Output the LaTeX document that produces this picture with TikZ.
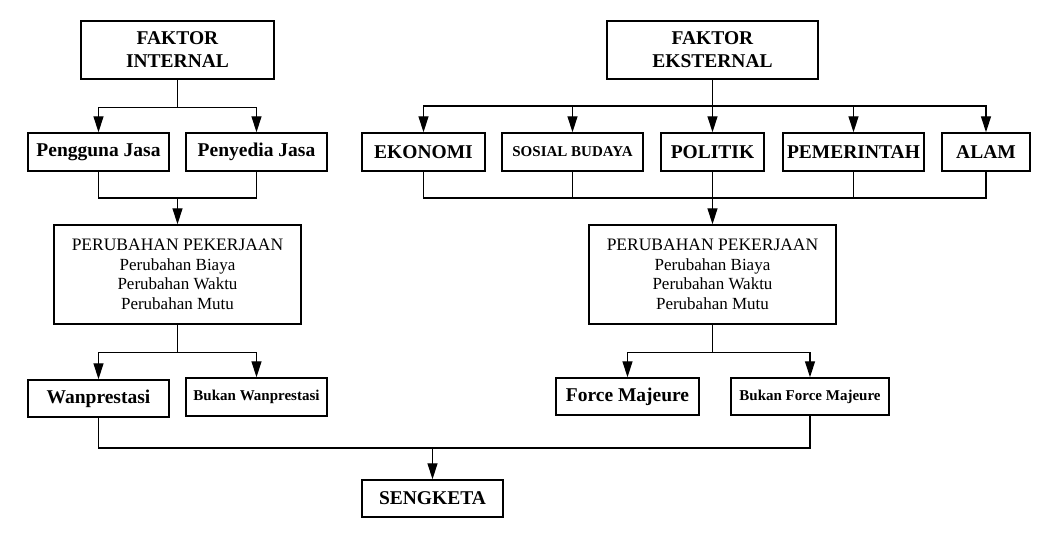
\documentclass[tikz,border=0pt]{standalone}
\usepackage{fontspec}
\setmainfont{Liberation Serif}
\usetikzlibrary{arrows.meta}

\tikzset{
  kotak/.style={draw, line width=1.5pt, inner sep=0pt, align=center,
    font=\bfseries\fontsize{19.5}{23}\selectfont},
  kecil/.style={font=\bfseries\fontsize{15}{18}\selectfont},
  ubah/.style={font=\fontsize{17}{19.5}\selectfont},
  garis/.style={line width=1.4pt},
  bus/.style={line width=2pt},
  panah/.style={line width=1.4pt, -{Triangle[length=16pt,width=10pt]}},
}

\begin{document}
\begin{tikzpicture}[x=1pt,y=-1pt]
\useasboundingbox (0,0) rectangle (1050,535);
% sisi kiri
\node[kotak, minimum width=193pt, minimum height=58pt] (fi) at (177.5,50) {FAKTOR\\INTERNAL};
\node[kotak, minimum width=141pt, minimum height=38pt] (pj) at (98.5,152) {Pengguna Jasa};
\node[kotak, minimum width=141pt, minimum height=38pt] (pd) at (256.5,152) {Penyedia Jasa};
\node[kotak, ubah, minimum width=247pt, minimum height=99pt] (pl) at (177.5,274.5)
  {{\fontsize{17.5}{20}\selectfont PERUBAHAN PEKERJAAN}\\Perubahan Biaya\\Perubahan Waktu\\Perubahan Mutu};
\node[kotak, minimum width=141pt, minimum height=37pt] (wp) at (98.5,398.5) {Wanprestasi};
\node[kotak, kecil, minimum width=141pt, minimum height=38pt] (bwp) at (256.5,397) {Bukan Wanprestasi};
% sisi kanan
\node[kotak, minimum width=211pt, minimum height=58pt] (fe) at (712.5,50) {FAKTOR\\EKSTERNAL};
\node[kotak, minimum width=123pt, minimum height=38pt] (eko) at (423.5,152) {EKONOMI};
\node[kotak, kecil, minimum width=141pt, minimum height=38pt] (sos) at (572.5,152) {SOSIAL BUDAYA};
\node[kotak, minimum width=103pt, minimum height=38pt] (pol) at (712.5,152) {POLITIK};
\node[kotak, minimum width=141pt, minimum height=38pt] (pem) at (853.5,152) {PEMERINTAH};
\node[kotak, minimum width=88pt, minimum height=38pt] (alam) at (986,152) {ALAM};
\node[kotak, ubah, minimum width=247pt, minimum height=99pt] (pr) at (712.5,274.5)
  {{\fontsize{17.5}{20}\selectfont PERUBAHAN PEKERJAAN}\\Perubahan Biaya\\Perubahan Waktu\\Perubahan Mutu};
\node[kotak, minimum width=143pt, minimum height=37pt] (fm) at (627.5,396.5) {Force Majeure};
\node[kotak, kecil, minimum width=158pt, minimum height=37pt] (bfm) at (810,396.5) {Bukan Force Majeure};
% bawah
\node[kotak, minimum width=141pt, minimum height=37pt] (sk) at (432.5,498.5) {SENGKETA};
\coordinate (j1) at (177.5,198);
\coordinate (j2) at (712.5,106);
\coordinate (j3) at (712.5,198);
\coordinate (j4) at (432.5,448);

% panah kiri
\draw[panah] (fi.south) -- ++(0,28) -| (pj.north);
\draw[panah] (fi.south) -- ++(0,28) -| (pd.north);
\draw[garis] (pj.south) |- (j1) -| (pd.south);
\draw[panah] (j1) -- (pl.north);
\draw[panah] (pl.south) -- ++(0,28) -| (wp.north);
\draw[panah] (pl.south) -- ++(0,28) -| (bwp.north);

% panah kanan
\draw[garis] (fe.south) -- (j2);
\foreach \n in {eko,sos,pol,pem,alam}
  \draw[panah] (j2) -| (\n.north);
\draw[bus] (eko.north |- j2) -- (alam.north |- j2);
\foreach \n in {eko,sos,pol,pem,alam}
  \draw[garis] (\n.south) |- (j3);
\draw[bus] (eko.south |- j3) -- (alam.south |- j3);
\draw[panah] (j3) -- (pr.north);
\draw[panah] (pr.south) -- ++(0,28) -| (fm.north);
\draw[panah] (pr.south) -- ++(0,28) -| (bfm.north);

% ke sengketa
\draw[garis] (wp.south) |- (j4) -| (bfm.south);
\draw[panah] (j4) -- (sk.north);
\end{tikzpicture}
\end{document}
